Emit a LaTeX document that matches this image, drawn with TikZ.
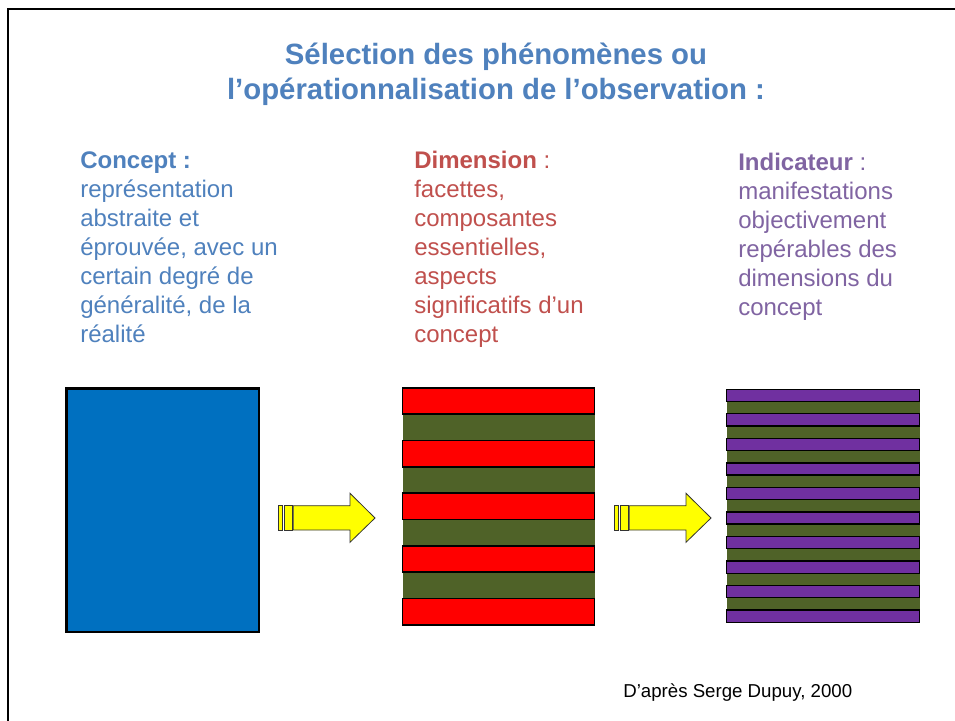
\documentclass[tikz,border=0pt]{standalone}
\usepackage{fontspec}
\setmainfont{Liberation Sans}
\definecolor{titleblue}{RGB}{79,129,189}
\definecolor{dimred}{RGB}{192,80,77}
\definecolor{indpurple}{RGB}{128,100,162}
\definecolor{boxblue}{RGB}{0,112,192}
\definecolor{stripered}{RGB}{255,0,0}
\definecolor{stripegreen}{RGB}{79,98,40}
\definecolor{stripepurple}{RGB}{112,48,160}
\definecolor{arrowyellow}{RGB}{255,255,0}
\tikzset{
  bodytext/.style={anchor=base west, inner sep=0pt, align=left, font=\fontsize{18}{21.75}\selectfont},
  titletext/.style={anchor=base, inner sep=0pt, align=center, text=titleblue, font=\bfseries\fontsize{22}{26.25}\selectfont},
  bigarrow/.style={fill=arrowyellow, draw=black!80, line width=0.6pt, line join=miter},
  redstripe/.style={fill=stripered, draw=black, line width=1.1pt},
  purplestripe/.style={fill=stripepurple, draw=black, line width=1pt},
}
\begin{document}
\begin{tikzpicture}[x=0.75pt,y=-0.75pt]
\useasboundingbox (0,0) rectangle (955,720);
\fill[white] (0,0) rectangle (955,720);
% frame
\draw[line width=1.9pt] (8,730) -- (8,8.8) -- (965,8.8);
% title (base anchor = baseline of last line)
\node[titletext] (title) at (496,100) {Sélection des phénomènes ou\\l’opérationnalisation de l’observation :};
% texts (base anchor = baseline of last line)
\node[bodytext, text=titleblue] (concept) at (80,342.5) {\textbf{Concept :}\\représentation\\abstraite et\\éprouvée, avec un\\certain degré de\\généralité, de la\\réalité};
\node[bodytext, text=dimred] (dimension) at (414,342.5) {\textbf{Dimension} :\\facettes,\\composantes\\essentielles,\\aspects\\significatifs d’un\\concept};
\node[bodytext, text=indpurple] (indicateur) at (738,315.5) {\textbf{Indicateur} :\\manifestations\\objectivement\\repérables des\\dimensions du\\concept};
% concept box
\draw[fill=boxblue, line width=1.6pt] (66.5,388.5) rectangle (259,632);
% dimension stripes
\fill[stripegreen] (402.5,387.5) rectangle (594.5,624);
\foreach \i in {0,...,4}{
  \draw[redstripe] (402.5,{387.8+2*\i*26.33}) rectangle (594.5,{387.8+(2*\i+1)*26.33});
}
% indicator stripes
\fill[stripegreen] (726.5,389) rectangle (919.5,622);
\foreach \i in {0,...,9}{
  \draw[purplestripe] (726.5,{389.3+2*\i*12.26}) rectangle (919.5,{389.3+(2*\i+1)*12.26});
}
% arrows
\foreach \dx/\nm in {0/one,336/two}{
  \begin{scope}[xshift=\dx*0.75pt]
    \draw[bigarrow] (278,505.7) rectangle (282.7,530);
    \draw[bigarrow] (284.3,505.7) rectangle (292,530);
    \draw[bigarrow] (293.3,505.7) -- (350,505.7) -- (350,493.3) -- (375,518) -- (350,542.3) -- (350,530) -- (293.3,530) -- cycle;
  \end{scope}
}
% source
\node[anchor=base west, inner sep=0pt, font=\fontsize{14}{16}\selectfont] (source) at (623,697.5) {D’après Serge Dupuy, 2000};
\end{tikzpicture}
\end{document}
